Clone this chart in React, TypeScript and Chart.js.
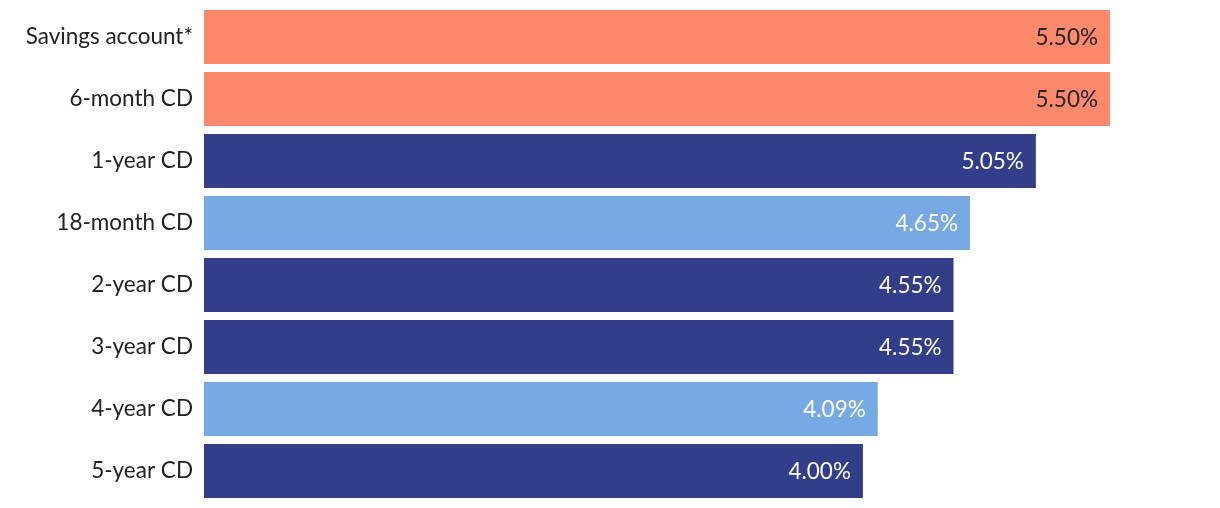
import React, { useEffect, useRef } from "react";
import { Chart, registerables } from "chart.js";

Chart.register(...registerables);

const categories = [
  "Savings account*",
  "6-month CD",
  "1-year CD",
  "18-month CD",
  "2-year CD",
  "3-year CD",
  "4-year CD",
  "5-year CD",
];
const rates = [5.5, 5.5, 5.05, 4.65, 4.55, 4.55, 4.09, 4.0];
const valueLabels = ["5.50%", "5.50%", "5.05%", "4.65%", "4.55%", "4.55%", "4.09%", "4.00%"];
const barColors = [
  "#FF8A6B",
  "#FF8A6B",
  "#333E8A",
  "#77A9E4",
  "#333E8A",
  "#333E8A",
  "#77A9E4",
  "#333E8A",
];
const labelColors = ["#222222", "#222222", "#FFFFFF", "#FFFFFF", "#FFFFFF", "#FFFFFF", "#FFFFFF", "#FFFFFF"];

const FONT = "Lato, 'Open Sans', sans-serif";
const FONT_SIZE = 22.5;

const valueLabelPlugin = {
  id: "valueLabels",
  afterDatasetsDraw(chart: any) {
    const { ctx } = chart;
    const meta = chart.getDatasetMeta(0);
    ctx.save();
    ctx.font = `${FONT_SIZE}px ${FONT}`;
    ctx.textAlign = "right";
    ctx.textBaseline = "middle";
    meta.data.forEach((bar: any, i: number) => {
      ctx.fillStyle = labelColors[i];
      ctx.fillText(valueLabels[i], bar.x - 12, bar.y + 1);
    });
    ctx.restore();
  },
};

export default function App() {
  const ref = useRef<HTMLCanvasElement>(null);
  useEffect(() => {
    document.body.style.margin = "0";
    const chart = new Chart(ref.current!, {
      type: "bar",
      data: {
        labels: categories,
        datasets: [
          {
            data: rates,
            backgroundColor: barColors,
            borderWidth: 0,
            categoryPercentage: 1,
            barPercentage: 0.87,
          },
        ],
      },
      options: {
        indexAxis: "y",
        animation: false,
        responsive: false,
        maintainAspectRatio: false,
        layout: { padding: { top: 6, bottom: 6, right: 110, left: 0 } },
        plugins: { legend: { display: false }, tooltip: { enabled: false } },
        scales: {
          x: { display: false, min: 0, max: 5.5 },
          y: {
            grid: { display: false, drawTicks: false },
            border: { display: false },
            ticks: { color: "#222222", font: { family: FONT, size: FONT_SIZE }, padding: 11 },
            afterFit(scale: any) {
              scale.width = 204;
              scale.paddingTop = 0;
              scale.paddingBottom = 0;
            },
          },
        },
      },
      plugins: [valueLabelPlugin],
    });
    return () => chart.destroy();
  }, []);
  return (
    <div style={{ width: 1220, height: 508 }}>
      <canvas ref={ref} width={1220} height={508} style={{ display: "block" }} />
    </div>
  );
}
